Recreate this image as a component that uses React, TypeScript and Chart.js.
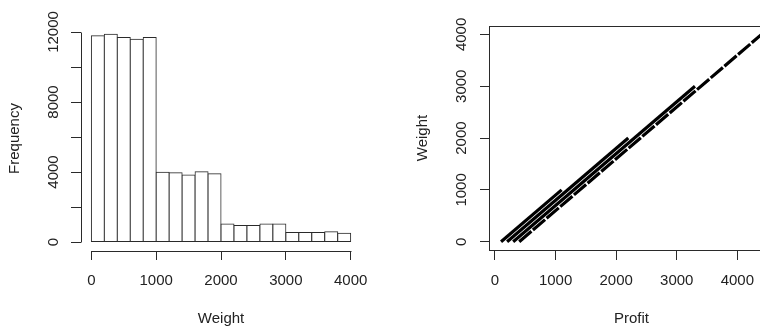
import React, { useEffect, useRef } from "react";
import { Chart, registerables } from "chart.js";

Chart.register(...registerables);

// ---- Histogram data (left) ----
const binCenters = [100, 300, 500, 700, 900, 1100, 1300, 1500, 1700, 1900, 2100, 2300, 2500, 2700, 2900, 3100, 3300, 3500, 3700, 3900];
const binCounts = [11790, 11870, 11680, 11580, 11680, 3980, 3960, 3830, 4020, 3900, 1030, 950, 950, 1030, 1030, 550, 550, 550, 590, 500];
const histXTicks = [0, 1000, 2000, 3000, 4000];
const histYTicks = [0, 2000, 4000, 6000, 8000, 10000, 12000];
const histYLabels = [0, 4000, 8000, 12000];

// ---- Scatter data (right): Profit vs Weight, each run of points drawn as a line ----
const lineProfitStart = [100, 200, 300, 400];
const lineWeightStart = [0, 0, 0, 0];
const lineProfitEnd = [1100, 2200, 3300, 4400];
const lineWeightEnd = [1000, 2000, 3000, 4000];
const scatterXTicks = [0, 1000, 2000, 3000, 4000];
const scatterYTicks = [0, 1000, 2000, 3000, 4000];

const FONT = "'Liberation Sans', Arial, Helvetica, sans-serif";
const TEXT = "#222";
const AXIS = "#2a2a2a";

const px = (v: number) => Math.round(v) + 0.5;

const histAxesPlugin = {
  id: "histAxes",
  afterDraw(chart: any) {
    const { ctx, chartArea, scales } = chart;
    const x = scales.x, y = scales.y;
    ctx.save();
    ctx.strokeStyle = AXIS;
    ctx.lineWidth = 1;
    ctx.beginPath();
    const ax = px(chartArea.left);
    ctx.moveTo(ax, px(y.getPixelForValue(histYTicks[0])));
    ctx.lineTo(ax, px(y.getPixelForValue(histYTicks[histYTicks.length - 1])));
    const ay = px(chartArea.bottom);
    ctx.moveTo(px(x.getPixelForValue(histXTicks[0])), ay);
    ctx.lineTo(px(x.getPixelForValue(histXTicks[histXTicks.length - 1])), ay);
    ctx.stroke();
    ctx.restore();
  },
};

const boxPlugin = {
  id: "boxPlot",
  afterDraw(chart: any) {
    const { ctx, chartArea } = chart;
    ctx.save();
    ctx.strokeStyle = AXIS;
    ctx.lineWidth = 1;
    ctx.strokeRect(px(chartArea.left), px(chartArea.top), Math.round(chartArea.right - chartArea.left), Math.round(chartArea.bottom - chartArea.top));
    ctx.restore();
  },
};

const tickFont = { family: FONT, size: 15, lineHeight: 1.2 };
const titleFont = { family: FONT, size: 15, lineHeight: 0.9 };

function histConfig(): any {
  return {
    type: "bar",
    data: {
      datasets: [
        {
          data: binCenters.map((c, i) => ({ x: c, y: binCounts[i] })),
          backgroundColor: "#ffffff",
          borderColor: "#2a2a2a",
          borderSkipped: false,
          borderWidth: 1,
          inflateAmount: 0.5,
          barPercentage: 1,
          categoryPercentage: 1,
        },
      ],
    },
    options: {
      responsive: false,
      animation: false,
      devicePixelRatio: 1,
      layout: { padding: { top: 26, right: 17.3, left: 0, bottom: 0 } },
      plugins: { legend: { display: false }, tooltip: { enabled: false } },
      scales: {
        x: {
          type: "linear",
          min: -160,
          max: 4160,
          offset: false,
          afterBuildTicks: (s: any) => {
            s.ticks = histXTicks.map((v) => ({ value: v }));
          },
          afterFit: (s: any) => {
            s.height = 75;
          },
          grid: { display: true, drawOnChartArea: false, drawTicks: true, tickLength: 9, color: AXIS, offset: false },
          border: { display: false },
          ticks: { autoSkip: false, maxRotation: 0, minRotation: 0, padding: 12, color: TEXT, font: tickFont, callback: (v: any) => String(v) },
          title: { display: true, text: "Weight", color: TEXT, font: titleFont, padding: { top: 0, bottom: 0 } },
        },
        y: {
          type: "linear",
          min: -514,
          max: 12343,
          afterBuildTicks: (s: any) => {
            s.ticks = histYTicks.map((v) => ({ value: v }));
          },
          afterFit: (s: any) => {
            s.width = 81;
          },
          grid: { display: true, drawOnChartArea: false, drawTicks: true, tickLength: 10, color: AXIS },
          border: { display: false },
          ticks: {
            autoSkip: false,
            minRotation: 90,
            maxRotation: 90,
            crossAlign: "center",
            padding: -3.3,
            color: TEXT,
            font: tickFont,
            callback: (v: any) => (histYLabels.includes(v) ? String(v) : ""),
          },
          title: { display: true, text: "Frequency", color: TEXT, font: titleFont, padding: { top: 7.7, bottom: 0 } },
        },
      },
    },
    plugins: [histAxesPlugin],
  };
}

function scatterConfig(): any {
  return {
    type: "scatter",
    data: {
      datasets: lineProfitStart.map((p, i) => ({
        data: [
          { x: p, y: lineWeightStart[i] },
          { x: lineProfitEnd[i], y: lineWeightEnd[i] },
        ],
        showLine: true,
        pointRadius: 0,
        borderColor: "#000",
        backgroundColor: "#000",
        borderWidth: 3.2,
        borderDash: i === lineProfitStart.length - 1 ? [16, 2] : [],
        fill: false,
      })),
    },
    options: {
      responsive: false,
      animation: false,
      devicePixelRatio: 1,
      layout: { padding: { top: 26.1, right: 6.3, left: 0, bottom: 0 } },
      plugins: { legend: { display: false }, tooltip: { enabled: false } },
      scales: {
        x: {
          type: "linear",
          min: -94,
          max: 4600,
          afterBuildTicks: (s: any) => {
            s.ticks = scatterXTicks.map((v) => ({ value: v }));
          },
          afterFit: (s: any) => {
            s.height = 76;
          },
          grid: { display: true, drawOnChartArea: false, drawTicks: true, tickLength: 10, color: AXIS },
          border: { display: false },
          ticks: { autoSkip: false, maxRotation: 0, minRotation: 0, padding: 11.4, color: TEXT, font: tickFont, callback: (v: any) => String(v) },
          title: { display: true, text: "Profit", color: TEXT, font: titleFont, padding: { top: 0, bottom: 0 } },
        },
        y: {
          type: "linear",
          min: -160,
          max: 4160,
          afterBuildTicks: (s: any) => {
            s.ticks = scatterYTicks.map((v) => ({ value: v }));
          },
          afterFit: (s: any) => {
            s.width = 109.3;
          },
          grid: { display: true, drawOnChartArea: false, drawTicks: true, tickLength: 9.3, color: AXIS },
          border: { display: false },
          ticks: {
            autoSkip: false,
            minRotation: 90,
            maxRotation: 90,
            crossAlign: "center",
            padding: 1.8,
            color: TEXT,
            font: tickFont,
            callback: (v: any) => String(v),
          },
          title: { display: true, text: "Weight", color: TEXT, font: titleFont, padding: { top: 36, bottom: 0 } },
        },
      },
    },
    plugins: [boxPlugin],
  };
}

export default function App() {
  const leftRef = useRef<HTMLCanvasElement>(null);
  const rightRef = useRef<HTMLCanvasElement>(null);

  useEffect(() => {
    const c1 = new Chart(leftRef.current as HTMLCanvasElement, histConfig());
    const c2 = new Chart(rightRef.current as HTMLCanvasElement, scatterConfig());
    return () => {
      c1.destroy();
      c2.destroy();
    };
  }, []);

  return (
    <div
      style={{
        position: "fixed",
        left: 0,
        top: 0,
        width: 760,
        height: 326,
        overflow: "hidden",
        background: "#ffffff",
      }}
    >
      <canvas ref={leftRef} width={380} height={326} style={{ position: "absolute", left: 0, top: 0, width: 380, height: 326 }} />
      <canvas ref={rightRef} width={400} height={326} style={{ position: "absolute", left: 380, top: 0, width: 400, height: 326 }} />
    </div>
  );
}
